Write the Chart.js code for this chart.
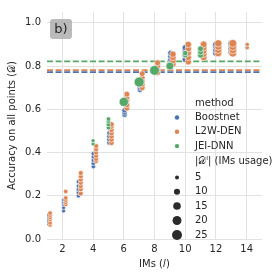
<!DOCTYPE html>
<html>
<head>
<meta charset="utf-8">
<script src="https://cdn.jsdelivr.net/npm/chart.js@4"></script>
<style>
  html, body { margin: 0; padding: 0; background: #fff; }
  canvas { display: block; }
</style>
</head>
<body>
<canvas id="chart" width="280" height="280"></canvas>
<script>
// IMs usage (x), accuracy (y) and |D^l| (size) per method
const boostnetIMs = [1.0, 1.0, 1.0, 1.0, 1.0, 2.08, 2.08, 2.08, 2.08, 2.08, 3.05, 3.05, 3.05, 3.05, 3.05,
  4.02, 4.02, 4.02, 4.02, 4.02, 5.05, 5.05, 5.05, 5.05, 6.05, 6.05, 6.05, 7.05, 7.05, 7.05,
  8.05, 8.05, 8.05, 9.05, 9.05, 9.05, 10.0, 10.0, 10.0, 10.0, 11.0, 11.0, 11.0,
  12.0, 12.0, 12.0, 12.0, 13.0, 13.0, 13.0, 13.0, 14.0, 14.0];
const boostnetAcc = [0.07, 0.08, 0.09, 0.10, 0.11, 0.13, 0.145, 0.16, 0.17, 0.18, 0.20, 0.215, 0.23, 0.245, 0.265,
  0.335, 0.35, 0.365, 0.38, 0.395, 0.445, 0.46, 0.475, 0.49, 0.575, 0.585, 0.595, 0.69, 0.70, 0.71,
  0.77, 0.78, 0.79, 0.83, 0.845, 0.86, 0.83, 0.85, 0.87, 0.885, 0.85, 0.865, 0.88,
  0.86, 0.875, 0.89, 0.90, 0.865, 0.88, 0.895, 0.905, 0.885, 0.90];
const boostnetUsage = [5, 5, 5, 5, 5, 5, 5, 5, 5, 5, 6, 6, 6, 6, 6,
  6, 6, 6, 6, 6, 7, 7, 7, 7, 8, 8, 8, 8, 8, 8,
  9, 9, 9, 9, 9, 9, 10, 10, 10, 10, 10, 10, 10,
  11, 11, 11, 11, 12, 12, 12, 12, 5, 5];

const l2wIMs = [1.2, 1.2, 1.2, 1.2, 1.2, 1.2, 2.22, 2.22, 2.22, 2.22, 2.22, 3.2, 3.2, 3.2, 3.2, 3.2, 3.2, 3.2,
  4.2, 4.2, 4.2, 4.2, 4.2, 4.2, 5.2, 5.2, 5.2, 5.2, 5.2, 5.2, 5.2, 6.2, 6.2, 6.2, 6.2, 6.2,
  7.2, 7.2, 7.2, 7.2, 7.2, 8.2, 8.2, 8.2, 8.2, 9.2, 9.2, 9.2, 9.2, 10.2, 10.2, 10.2, 10.2, 10.2,
  11.2, 11.2, 11.2, 11.2, 11.2, 12.15, 12.15, 12.15, 12.15, 13.1, 13.1, 13.1, 13.1, 14.05, 14.05];
const l2wAcc = [0.065, 0.075, 0.09, 0.10, 0.11, 0.12, 0.16, 0.17, 0.18, 0.19, 0.22, 0.21, 0.23, 0.245, 0.26, 0.275, 0.29, 0.305,
  0.36, 0.37, 0.385, 0.40, 0.415, 0.43, 0.445, 0.46, 0.475, 0.49, 0.505, 0.52, 0.53, 0.605, 0.62, 0.64, 0.655, 0.67,
  0.70, 0.715, 0.73, 0.745, 0.765, 0.77, 0.785, 0.80, 0.815, 0.81, 0.825, 0.84, 0.855, 0.82, 0.84, 0.86, 0.88, 0.90,
  0.84, 0.855, 0.87, 0.885, 0.90, 0.86, 0.875, 0.89, 0.905, 0.86, 0.875, 0.89, 0.905, 0.885, 0.90];
const l2wUsage = [6, 6, 6, 6, 6, 6, 6, 6, 6, 6, 6, 7, 7, 7, 7, 7, 7, 7,
  7, 7, 7, 7, 7, 7, 8, 8, 8, 8, 8, 8, 8, 9, 9, 9, 9, 9,
  9, 9, 9, 9, 9, 10, 10, 10, 10, 11, 11, 11, 11, 11, 11, 11, 11, 11,
  12, 12, 12, 12, 12, 14, 14, 14, 14, 16, 16, 16, 16, 5, 5];

const jeiIMs = [4.0, 4.0, 5.0, 5.0, 5.0, 5.0, 6.0, 7.0, 8.0, 9.0, 10.0, 10.0, 11.0, 11.0, 11.0];
const jeiAcc = [0.44, 0.455, 0.515, 0.53, 0.545, 0.555, 0.634, 0.726, 0.78, 0.80, 0.85, 0.86, 0.85, 0.865, 0.88];
const jeiUsage = [5, 5, 6, 6, 6, 6, 22, 25, 24, 16, 8, 8, 9, 9, 9];

// accuracy of the full model (dashed lines)
const fullAcc = { 'Boostnet': 0.772, 'L2W-DEN': 0.781, 'JEI-DNN': 0.822 };

const xTicks = [2, 4, 6, 8, 10, 12, 14];
const yTicks = [0.0, 0.2, 0.4, 0.6, 0.8, 1.0];
const legendSizes = [5, 10, 15, 20, 25];

const colors = { 'Boostnet': '#4c72b0', 'L2W-DEN': '#dd8452', 'JEI-DNN': '#55a868' };
const textColor = '#262626';
const FONT = 'DejaVu Sans';

// seaborn-like size mapping: marker area linear in size
function radiusFor(s) {
  return Math.sqrt(Math.max(1, -1.25 + 1.05 * s));
}

function pts(xs, ys) {
  return xs.map((x, i) => ({ x: x, y: ys[i] }));
}

function scatterSet(label, xs, ys, sizes, order) {
  return {
    type: 'scatter',
    label: label,
    data: pts(xs, ys),
    backgroundColor: colors[label],
    borderColor: '#ffffff',
    borderWidth: 0.6,
    pointRadius: ctx => radiusFor(sizes[ctx.dataIndex]),
    order: order
  };
}

function refLine(label) {
  return {
    type: 'line',
    label: label + ' full',
    data: [{ x: 1, y: fullAcc[label] }, { x: 15, y: fullAcc[label] }],
    borderColor: colors[label],
    borderWidth: 1.8,
    borderDash: [6, 2.6],
    pointRadius: 0,
    fill: false,
    order: 5
  };
}

// legend + panel tag drawn on top
const overlay = {
  id: 'overlay',
  afterDraw(chart) {
    const c = chart.ctx;
    c.save();
    // panel tag "b)"
    c.fillStyle = 'rgba(170,170,170,0.8)';
    c.beginPath();
    c.roundRect(50, 19, 22, 20, 3);
    c.fill();
    c.fillStyle = textColor;
    c.font = '13px ' + FONT;
    c.textAlign = 'center';
    c.textBaseline = 'middle';
    c.fillText('b)', 61, 29.5);

    // legend
    c.font = '10px ' + FONT;
    c.textAlign = 'left';
    const mx = 177, tx = 195;
    c.fillStyle = textColor;
    c.fillText('method', tx, 103);
    const methods = ['Boostnet', 'L2W-DEN', 'JEI-DNN'];
    const rows = [117.5, 131.8, 146.1];
    methods.forEach((m, i) => {
      c.fillStyle = colors[m];
      c.beginPath();
      c.arc(mx, rows[i], 2.2, 0, Math.PI * 2);
      c.fill();
      c.fillStyle = textColor;
      c.fillText(m, tx, rows[i]);
    });
    c.fillText('|\u{1D49F}\u02E1| (IMs usage)', tx, 161.5);
    const sizeRows = [177.5, 191.7, 206, 220.5, 235];
    legendSizes.forEach((s, i) => {
      c.fillStyle = '#2b2b2b';
      c.beginPath();
      c.arc(mx, sizeRows[i], radiusFor(s), 0, Math.PI * 2);
      c.fill();
      c.fillStyle = textColor;
      c.fillText(String(s), tx, sizeRows[i]);
    });
    c.restore();
  }
};

new Chart(document.getElementById('chart'), {
  data: {
    datasets: [
      scatterSet('JEI-DNN', jeiIMs, jeiAcc, jeiUsage, 0),
      scatterSet('L2W-DEN', l2wIMs, l2wAcc, l2wUsage, 1),
      scatterSet('Boostnet', boostnetIMs, boostnetAcc, boostnetUsage, 2),
      refLine('JEI-DNN'),
      refLine('L2W-DEN'),
      refLine('Boostnet')
    ]
  },
  options: {
    responsive: false,
    animation: false,
    layout: { padding: { top: 12, right: 18, left: 0, bottom: 0 } },
    plugins: { legend: { display: false }, tooltip: { enabled: false } },
    scales: {
      x: {
        type: 'linear',
        min: 1,
        max: 15,
        afterBuildTicks: s => { s.ticks = xTicks.map(v => ({ value: v })); },
        afterFit: s => { s.height = 41; },
        border: { display: false },
        grid: { color: '#e2e2e2', lineWidth: 1, drawTicks: false },
        ticks: { color: textColor, font: { family: FONT, size: 10 }, padding: 4, maxRotation: 0 },
        title: { display: true, text: 'IMs (\u{1D459})', color: textColor, font: { family: FONT, size: 10 }, padding: { top: 3, bottom: 10 } }
      },
      y: {
        type: 'linear',
        min: 0,
        max: 1.05,
        afterBuildTicks: s => { s.ticks = yTicks.map(v => ({ value: v })); },
        afterFit: s => { s.width = 47; },
        border: { display: false },
        grid: { color: '#e2e2e2', lineWidth: 1, drawTicks: false },
        ticks: { color: textColor, font: { family: FONT, size: 10 }, padding: 6, callback: v => v.toFixed(1) },
        title: { display: true, text: 'Accuracy on all points (\u{1D49F})', color: textColor, font: { family: FONT, size: 10 }, padding: 6 }
      }
    }
  },
  plugins: [overlay]
});
</script>
</body>
</html>
